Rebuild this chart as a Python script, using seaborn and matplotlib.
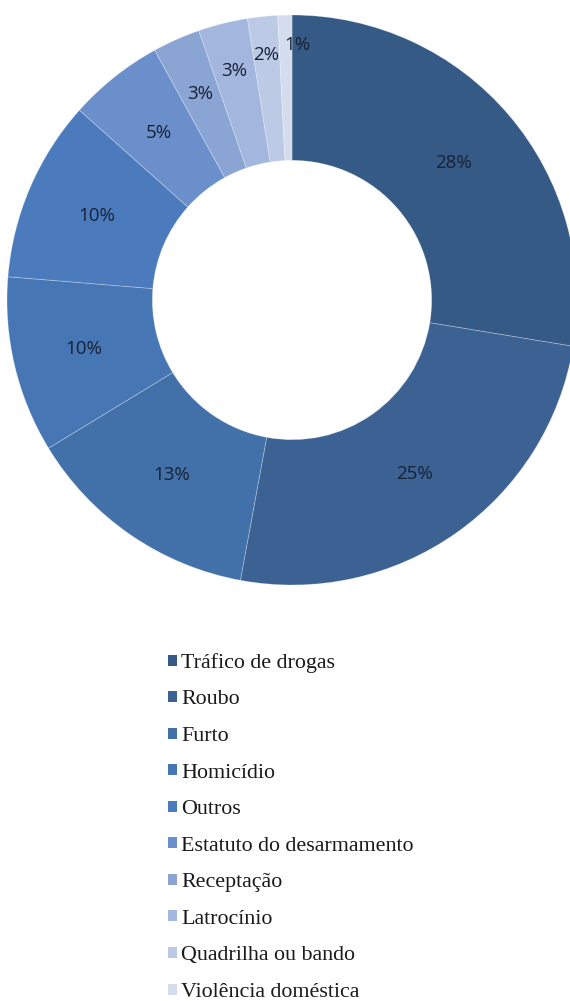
import matplotlib
matplotlib.use("Agg")
import matplotlib.pyplot as plt
import seaborn as sns
from matplotlib.patches import Patch
import numpy as np

categories = ["Tráfico de drogas", "Roubo", "Furto", "Homicídio", "Outros",
              "Estatuto do desarmamento", "Receptação", "Latrocínio",
              "Quadrilha ou bando", "Violência doméstica"]
# shares read from the wedge boundaries (labels are the printed rounded values)
values = [27.6, 25.3, 13.4, 10.0, 10.3, 5.4, 2.7, 2.8, 1.7, 0.8]
labels = ["28%", "25%", "13%", "10%", "10%", "5%", "3%", "3%", "2%", "1%"]
colors = ["#355a85", "#3b6293", "#4270a8", "#4776b4", "#4b7bbd",
          "#6b8fcb", "#8aa4d4", "#a3b6dd", "#bccae6", "#d4dcee"]
# label placement: radius (fraction of outer radius) and angular nudge (deg)
label_r = [0.745, 0.745, 0.745, 0.75, 0.745, 0.75, 0.79, 0.83, 0.865, 0.895]
label_dang = [0, 0, 0, 0, 0, 0, 0, 0, 0, -2.6]

sns.set_theme(style="white")
plt.rcParams["font.family"] = ["Open Sans", "DejaVu Sans"]

W, H = 570, 1001
fig = plt.figure(figsize=(W / 100, H / 100), dpi=100)
cx, cy, R = 292, 300, 285
ax = fig.add_axes([(cx - R) / W, 1 - (cy + R) / H, 2 * R / W, 2 * R / H])

wedges, _ = ax.pie(values, colors=colors, startangle=90, counterclock=False,
                   radius=1, wedgeprops=dict(width=0.51, edgecolor=(1, 1, 1, 0.3), linewidth=0.6))
ax.set_xlim(-1, 1)
ax.set_ylim(-1, 1)
ax.set_aspect("equal")
ax.axis("off")

total = sum(values)
cum = 0
for v, lab, r, da in zip(values, labels, label_r, label_dang):
    mid = 90 - (cum + v / 2) / total * 360 + da
    cum += v
    x, y = r * np.cos(np.radians(mid)), r * np.sin(np.radians(mid))
    ax.text(x, y, lab, ha="center", va="center", fontsize=13.5, color="#172236")

handles = [Patch(facecolor=c, edgecolor="none") for c in colors]
leg = fig.legend(handles, categories, loc="upper left",
                 bbox_to_anchor=(168 / W, 1 - 653 / H), frameon=False,
                 prop=dict(family="Liberation Serif", size=15.8),
                 handlelength=0.4, handleheight=0.4, handletextpad=0.2,
                 labelspacing=0.8, borderaxespad=0, borderpad=0)
for t in leg.get_texts():
    t.set_color("#1a1a1a")

fig.savefig("out.png", dpi=100, facecolor="white")
